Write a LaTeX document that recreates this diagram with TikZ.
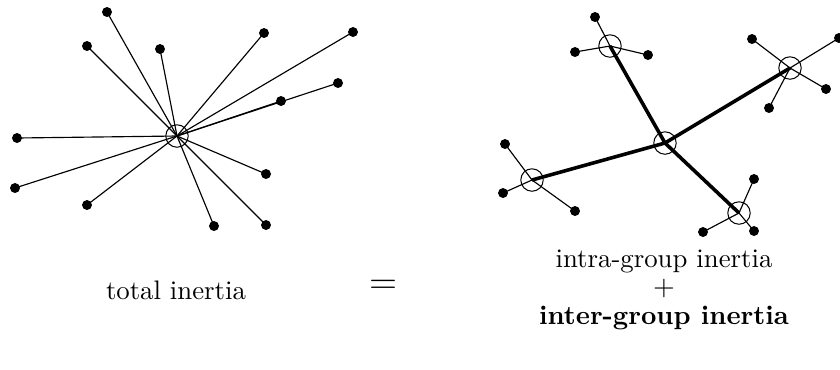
\documentclass[tikz,border=0pt]{standalone}
\begin{document}
\begin{tikzpicture}[x=0.392pt,y=-0.392pt,
  dot/.style={circle,fill=black,inner sep=0pt,minimum size=3.9pt},
  ctr/.style={circle,draw=black,line width=0.4pt,inner sep=0pt,minimum size=8.8pt},
  thin/.style={line width=0.45pt},
  thick/.style={line width=1.4pt},
  lbl/.style={inner sep=0pt,font=\fontsize{10.5}{12.6}\selectfont}]
\useasboundingbox (0,0) rectangle (840,369);
% left diagram
\node[ctr] (C) at (177,136) {};
\foreach \n/\x/\y in {a/107/12,b/87/46,c/160/49,d/264/33,e/353/32,f/338/83,g/281/101,h/17/138,i/15/188,j/87/205,k/266/174,l/214/226,m/266/225}{
  \node[dot] (\n) at (\x,\y) {};
  \draw[thin] (C.center) -- (\n.center);
}
% right diagram
\node[ctr] (O) at (665,143) {};
\node[ctr] (G1) at (610,46) {};
\node[ctr] (G2) at (790,68) {};
\node[ctr] (G3) at (532,180) {};
\node[ctr] (G4) at (739,213) {};
\foreach \g in {G1,G2,G3,G4}{\draw[thick] (O.center) -- (\g.center);}
\foreach \g/\n/\x/\y in {G1/p1/595/17,G1/p2/575/52,G1/p3/648/55,
  G2/q1/752/39,G2/q2/839/38,G2/q3/826/89,G2/q4/769/108,
  G3/r1/505/144,G3/r2/503/193,G3/r3/575/211,
  G4/s1/754/179,G4/s2/703/232,G4/s3/754/231}{
  \node[dot] (\n) at (\x,\y) {};
  \draw[thin] (\g.center) -- (\n.center);
}
% labels
\node[lbl] (t1) at (176,290) {total inertia};
\node[lbl,font=\fontsize{14}{16}\selectfont] (eq) at (383,287) {$=$};
\node[lbl] (t2) at (664,261) {intra-group inertia};
\node[lbl] (pl) at (664,289) {$+$};
\node[lbl] (t3) at (664,318) {\textbf{inter-group inertia}};
\end{tikzpicture}
\end{document}
